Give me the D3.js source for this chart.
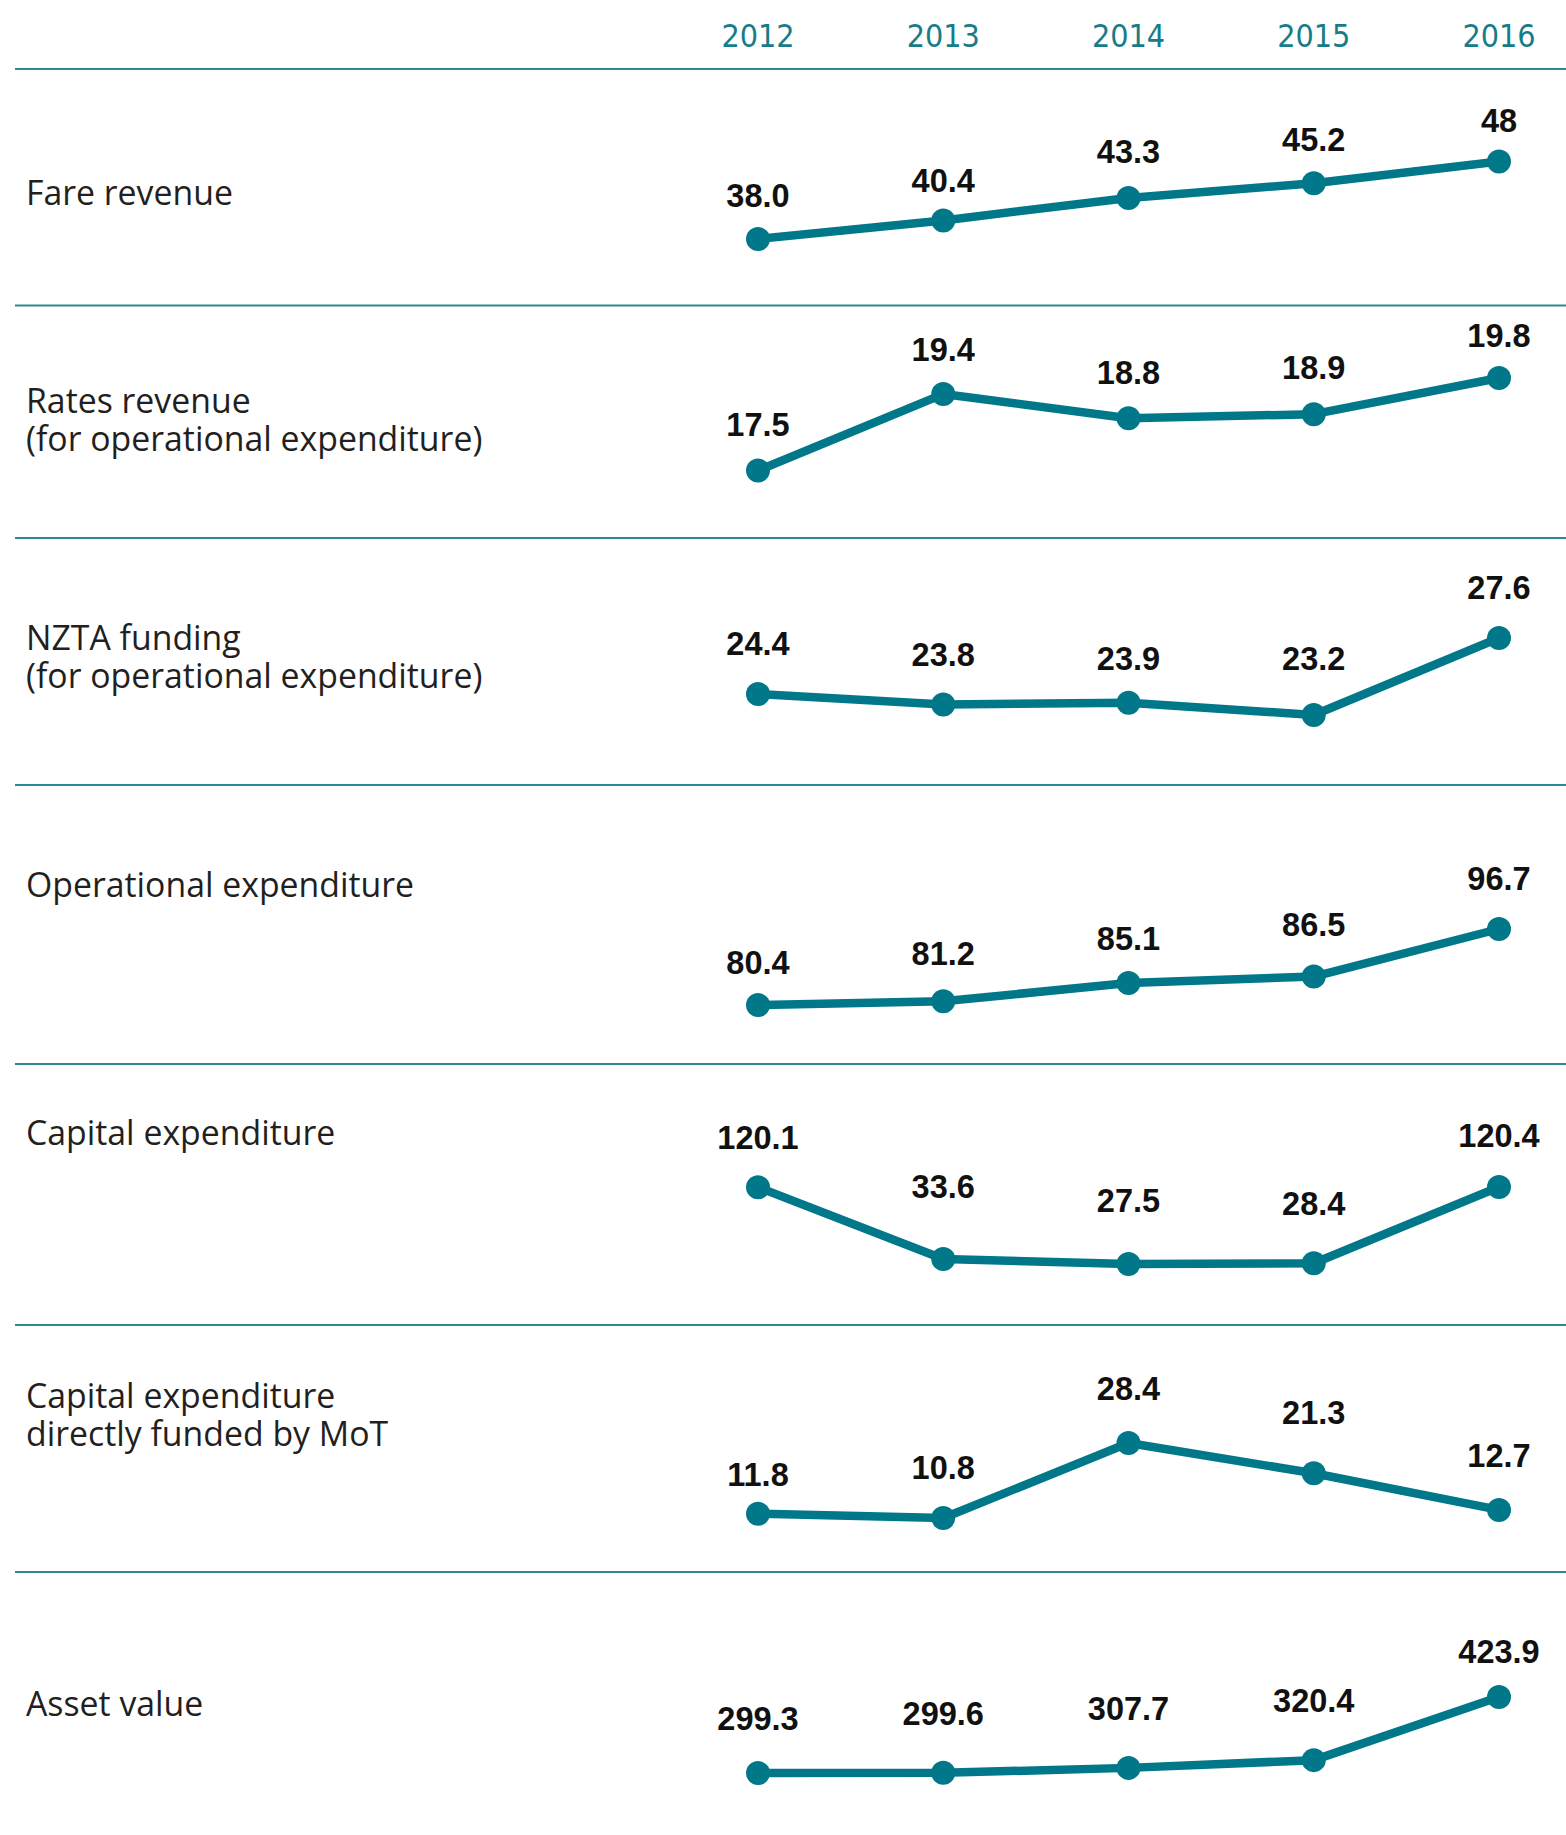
<!DOCTYPE html>
<html>
<head>
<meta charset="utf-8">
<script src="https://cdn.jsdelivr.net/npm/d3@7"></script>
<style>
  body { margin: 0; background: #fff; }
  .row-label { font-family: "Open Sans", "Noto Sans", sans-serif; font-size: 33.8px; fill: #231f20; }
  .year-label { font-family: "Liberation Sans Narrow", "DejaVu Sans Condensed", sans-serif; font-size: 32px; fill: #177c89; }
  .value-label { font-family: "Liberation Sans", Arial, sans-serif; font-weight: bold; font-size: 32.5px; fill: #111; }
</style>
</head>
<body>
<div id="chart"></div>
<script>
// 1. Data

const years = ["2012", "2013", "2014", "2015", "2016"]

const rowLabels = [
  ["Fare revenue"],
  ["Rates revenue", "(for operational expenditure)"],
  ["NZTA funding", "(for operational expenditure)"],
  ["Operational expenditure"],
  ["Capital expenditure"],
  ["Capital expenditure", "directly funded by MoT"],
  ["Asset value"],
]

const fareRevenue   = ["38.0", "40.4", "43.3", "45.2", "48"]
const ratesRevenue  = ["17.5", "19.4", "18.8", "18.9", "19.8"]
const nztaFunding   = ["24.4", "23.8", "23.9", "23.2", "27.6"]
const operationalEx = ["80.4", "81.2", "85.1", "86.5", "96.7"]
const capitalEx     = ["120.1", "33.6", "27.5", "28.4", "120.4"]
const capitalExMoT  = ["11.8", "10.8", "28.4", "21.3", "12.7"]
const assetValue    = ["299.3", "299.6", "307.7", "320.4", "423.9"]

const series = [fareRevenue, ratesRevenue, nztaFunding, operationalEx, capitalEx, capitalExMoT, assetValue]

// 2. Layout (row top, y offset of min / max value, label baseline offset, value label lift)

const rowLayout = [
  { top: 69,   lo: 170, hi: 92.5, labelY: 136,   lift: [32, 28, 35, 32, 30] },
  { top: 305.5, lo: 165, hi: 72.5, labelY: 107.5, lift: [35, 33, 34, 35, 31] },
  { top: 538,  lo: 177, hi: 100,  labelY: 112,   lift: [39, 39, 33, 45, 39] },
  { top: 785,  lo: 220, hi: 144,  labelY: 112,   lift: [31, 36, 33, 41, 39] },
  { top: 1064, lo: 200, hi: 123,  labelY: 81,    lift: [38, 61, 52, 48, 40] },
  { top: 1325, lo: 193, hi: 118,  labelY: 83,    lift: [28, 39, 43, 49, 43] },
  { top: 1572, lo: 201, hi: 125,  labelY: 144,   lift: [43, 48, 48, 48, 34] },
]

let dimensions = {
  width: 1566,
  height: 1835,
  lineStart: 15,
  lineHeight: 38,
}

const teal = "#00788a"

// 3. Draw canvas

const wrapper = d3.select("#chart")
  .append("svg")
    .attr("width", dimensions.width)
    .attr("height", dimensions.height)

// 4. Scales

const xScale = d3.scalePoint()
  .domain(years)
  .range([758, 1499])

// 5. Header

wrapper.append("g")
  .selectAll("text")
  .data(years)
  .join("text")
    .attr("class", "year-label")
    .attr("x", d => xScale(d))
    .attr("y", 46.5)
    .attr("text-anchor", "middle")
    .text(d => d)

// separators
wrapper.append("g")
  .selectAll("line")
  .data(rowLayout)
  .join("line")
    .attr("x1", dimensions.lineStart)
    .attr("x2", dimensions.width)
    .attr("y1", d => d.top)
    .attr("y2", d => d.top)
    .attr("stroke", "#2a8995")
    .attr("stroke-width", 2)

// 6. Rows

series.forEach((values, i) => {
  const layout = rowLayout[i]
  const nums = values.map(d => +d)

  const yScale = d3.scaleLinear()
    .domain(d3.extent(nums))
    .range([layout.top + layout.lo, layout.top + layout.hi])

  const row = wrapper.append("g")

  row.append("text")
      .attr("class", "row-label")
      .attr("x", 26)
      .attr("y", layout.top + layout.labelY)
    .selectAll("tspan")
    .data(rowLabels[i])
    .join("tspan")
      .attr("x", 26)
      .attr("dy", (d, j) => j === 0 ? 0 : dimensions.lineHeight)
      .text(d => d)

  const lineGenerator = d3.line()
    .x((d, j) => xScale(years[j]))
    .y(d => yScale(d))

  row.append("path")
      .attr("d", lineGenerator(nums))
      .attr("fill", "none")
      .attr("stroke", teal)
      .attr("stroke-width", 8.5)
      .attr("stroke-linejoin", "round")

  row.selectAll("circle")
    .data(nums)
    .join("circle")
      .attr("cx", (d, j) => xScale(years[j]))
      .attr("cy", d => yScale(d))
      .attr("r", 12)
      .attr("fill", teal)

  row.selectAll(".value-label")
    .data(values)
    .join("text")
      .attr("class", "value-label")
      .attr("x", (d, j) => xScale(years[j]))
      .attr("y", (d, j) => yScale(+d) - layout.lift[j])
      .attr("text-anchor", "middle")
      .text(d => d)
})
</script>
</body>
</html>
